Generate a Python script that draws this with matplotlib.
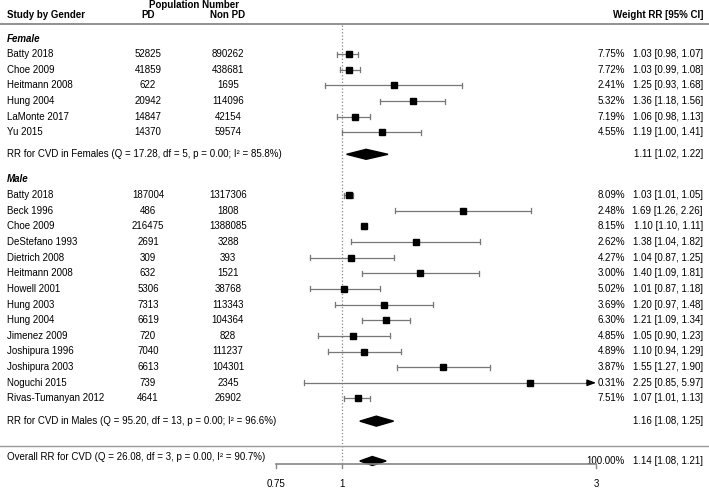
import matplotlib.pyplot as plt
from matplotlib.patches import Polygon

plt.rcParams['font.family'] = ['Liberation Sans', 'DejaVu Sans']
plt.rcParams['font.size'] = 7

# Female studies
female_studies = ["Batty 2018", "Choe 2009", "Heitmann 2008", "Hung 2004", "LaMonte 2017", "Yu 2015"]
female_pd = [52825, 41859, 622, 20942, 14847, 14370]
female_nonpd = [890262, 438681, 1695, 114096, 42154, 59574]
female_weight = [7.75, 7.72, 2.41, 5.32, 7.19, 4.55]
female_rr = [1.03, 1.03, 1.25, 1.36, 1.06, 1.19]
female_lo = [0.98, 0.99, 0.93, 1.18, 0.98, 1.00]
female_hi = [1.07, 1.08, 1.68, 1.56, 1.13, 1.41]

# Male studies
male_studies = ["Batty 2018", "Beck 1996", "Choe 2009", "DeStefano 1993", "Dietrich 2008",
                "Heitmann 2008", "Howell 2001", "Hung 2003", "Hung 2004", "Jimenez 2009",
                "Joshipura 1996", "Joshipura 2003", "Noguchi 2015", "Rivas-Tumanyan 2012"]
male_pd = [187004, 486, 216475, 2691, 309, 632, 5306, 7313, 6619, 720, 7040, 6613, 739, 4641]
male_nonpd = [1317306, 1808, 1388085, 3288, 393, 1521, 38768, 113343, 104364, 828,
              111237, 104301, 2345, 26902]
male_weight = [8.09, 2.48, 8.15, 2.62, 4.27, 3.00, 5.02, 3.69, 6.30, 4.85, 4.89, 3.87, 0.31, 7.51]
male_rr = [1.03, 1.69, 1.10, 1.38, 1.04, 1.40, 1.01, 1.20, 1.21, 1.05, 1.10, 1.55, 2.25, 1.07]
male_lo = [1.01, 1.26, 1.10, 1.04, 0.87, 1.09, 0.87, 0.97, 1.09, 0.90, 0.94, 1.27, 0.85, 1.01]
male_hi = [1.05, 2.26, 1.11, 1.82, 1.25, 1.81, 1.18, 1.48, 1.34, 1.23, 1.29, 1.90, 5.97, 1.13]

# Pooled estimates
summary_labels = ["RR for CVD in Females (Q = 17.28, df = 5, p = 0.00; I\u00b2 = 85.8%)",
                  "RR for CVD in Males (Q = 95.20, df = 13, p = 0.00; I\u00b2 = 96.6%)",
                  "Overall RR for CVD (Q = 26.08, df = 3, p = 0.00, I\u00b2 = 90.7%)"]
summary_rr = [1.11, 1.16, 1.14]
summary_lo = [1.02, 1.08, 1.08]
summary_hi = [1.22, 1.25, 1.21]
overall_weight = "100.00%"

xticks = [0.75, 1, 3]
xmax = 3

fig = plt.figure(figsize=(7.09, 4.88), dpi=100)
ax = fig.add_axes([0, 0, 1, 1])
ax.set_xscale('log')
ax.set_xlim(0.2278, 4.89)
ax.set_ylim(488, 0)
ax.axis('off')

# x positions of text columns (axes fraction)
W = 709.0
tx = ax.get_yaxis_transform()  # x in axes fraction, y in data
c_name = 7 / W
c_pd = 148 / W
c_nonpd = 228 / W
c_weight = 625 / W
c_rr = 703 / W

grey = '#777777'

# headers
ax.text(194 / W, 5, "Population Number", transform=tx, ha='center', va='center', fontweight='bold')
ax.text(c_name, 15, "Study by Gender", transform=tx, ha='left', va='center', fontweight='bold')
ax.text(c_pd, 15, "PD", transform=tx, ha='center', va='center', fontweight='bold')
ax.text(c_nonpd, 15, "Non PD", transform=tx, ha='center', va='center', fontweight='bold')
ax.text(c_rr, 15, "Weight RR [95% CI]", transform=tx, ha='right', va='center', fontweight='bold')
ax.axhline(24, color='#888888', lw=1.3)
ax.axhline(446, color='#999999', lw=1.0)

top = 38.5
step = 15.65


def ypos(r):
    return top + step * r


def draw_study(y, name, pd_n, non_n, w, rr, lo, hi):
    ax.text(c_name, y, name, transform=tx, ha='left', va='center')
    ax.text(c_pd, y, str(pd_n), transform=tx, ha='center', va='center')
    ax.text(c_nonpd, y, str(non_n), transform=tx, ha='center', va='center')
    ax.text(c_weight, y, f"{w:.2f}%", transform=tx, ha='right', va='center')
    ax.text(c_rr, y, f"{rr:.2f} [{lo:.2f}, {hi:.2f}]", transform=tx, ha='right', va='center')
    ax.plot([lo, lo], [y - 2.5, y + 2.5], color=grey, lw=0.9)
    if hi > xmax:
        ax.plot([lo, xmax * 0.97], [y, y], color=grey, lw=0.9)
        ax.annotate('', xy=(xmax, y), xytext=(xmax * 0.96, y),
                    arrowprops=dict(arrowstyle='-|>,head_length=0.75,head_width=0.28',
                                    color='black', lw=0.9, shrinkA=0, shrinkB=0))
    else:
        ax.plot([lo, hi], [y, y], color=grey, lw=0.9)
        ax.plot([hi, hi], [y - 2.5, y + 2.5], color=grey, lw=0.9)
    ax.plot([rr], [y], marker='s', color='black', markersize=4.6, zorder=5)


def draw_summary(y, label, rr, lo, hi, ty=None, h=5):
    ax.text(c_name, y if ty is None else ty, label, transform=tx, ha='left', va='center')
    ax.text(c_rr, y, f"{rr:.2f} [{lo:.2f}, {hi:.2f}]", transform=tx, ha='right', va='center')
    ax.add_patch(Polygon([(lo, y), (rr, y - h), (hi, y), (rr, y + h)],
                         closed=True, color='black', zorder=4))


# Female block
ax.text(c_name, ypos(0), "Female", transform=tx, ha='left', va='center',
        fontweight='bold', fontstyle='italic')
for i in range(len(female_studies)):
    draw_study(ypos(1 + i), female_studies[i], female_pd[i], female_nonpd[i],
               female_weight[i], female_rr[i], female_lo[i], female_hi[i])
draw_summary(ypos(7.4), summary_labels[0], summary_rr[0], summary_lo[0], summary_hi[0])

# Male block
ax.text(c_name, ypos(9), "Male", transform=tx, ha='left', va='center',
        fontweight='bold', fontstyle='italic')
for i in range(len(male_studies)):
    draw_study(ypos(10 + i), male_studies[i], male_pd[i], male_nonpd[i],
               male_weight[i], male_rr[i], male_lo[i], male_hi[i])
draw_summary(ypos(24.45), summary_labels[1], summary_rr[1], summary_lo[1], summary_hi[1])

# Overall
axis_y = 464
draw_summary(461, summary_labels[2], summary_rr[2], summary_lo[2], summary_hi[2], ty=457, h=4.5)
ax.text(c_weight, 461, overall_weight, transform=tx, ha='right', va='center')

# reference line at RR = 1
ax.plot([1, 1], [25, axis_y], color='#888888', ls=':', lw=0.9, zorder=1)

# x axis
ax.plot([xticks[0], xticks[-1]], [axis_y, axis_y], color='#888888', lw=1.2, zorder=6)
for t in xticks:
    ax.plot([t, t], [axis_y, axis_y + 4], color='#888888', lw=1.0, zorder=6)
    ax.text(t, 484, f"{t:g}", ha='center', va='center')

fig.savefig("out.png", dpi=100)
